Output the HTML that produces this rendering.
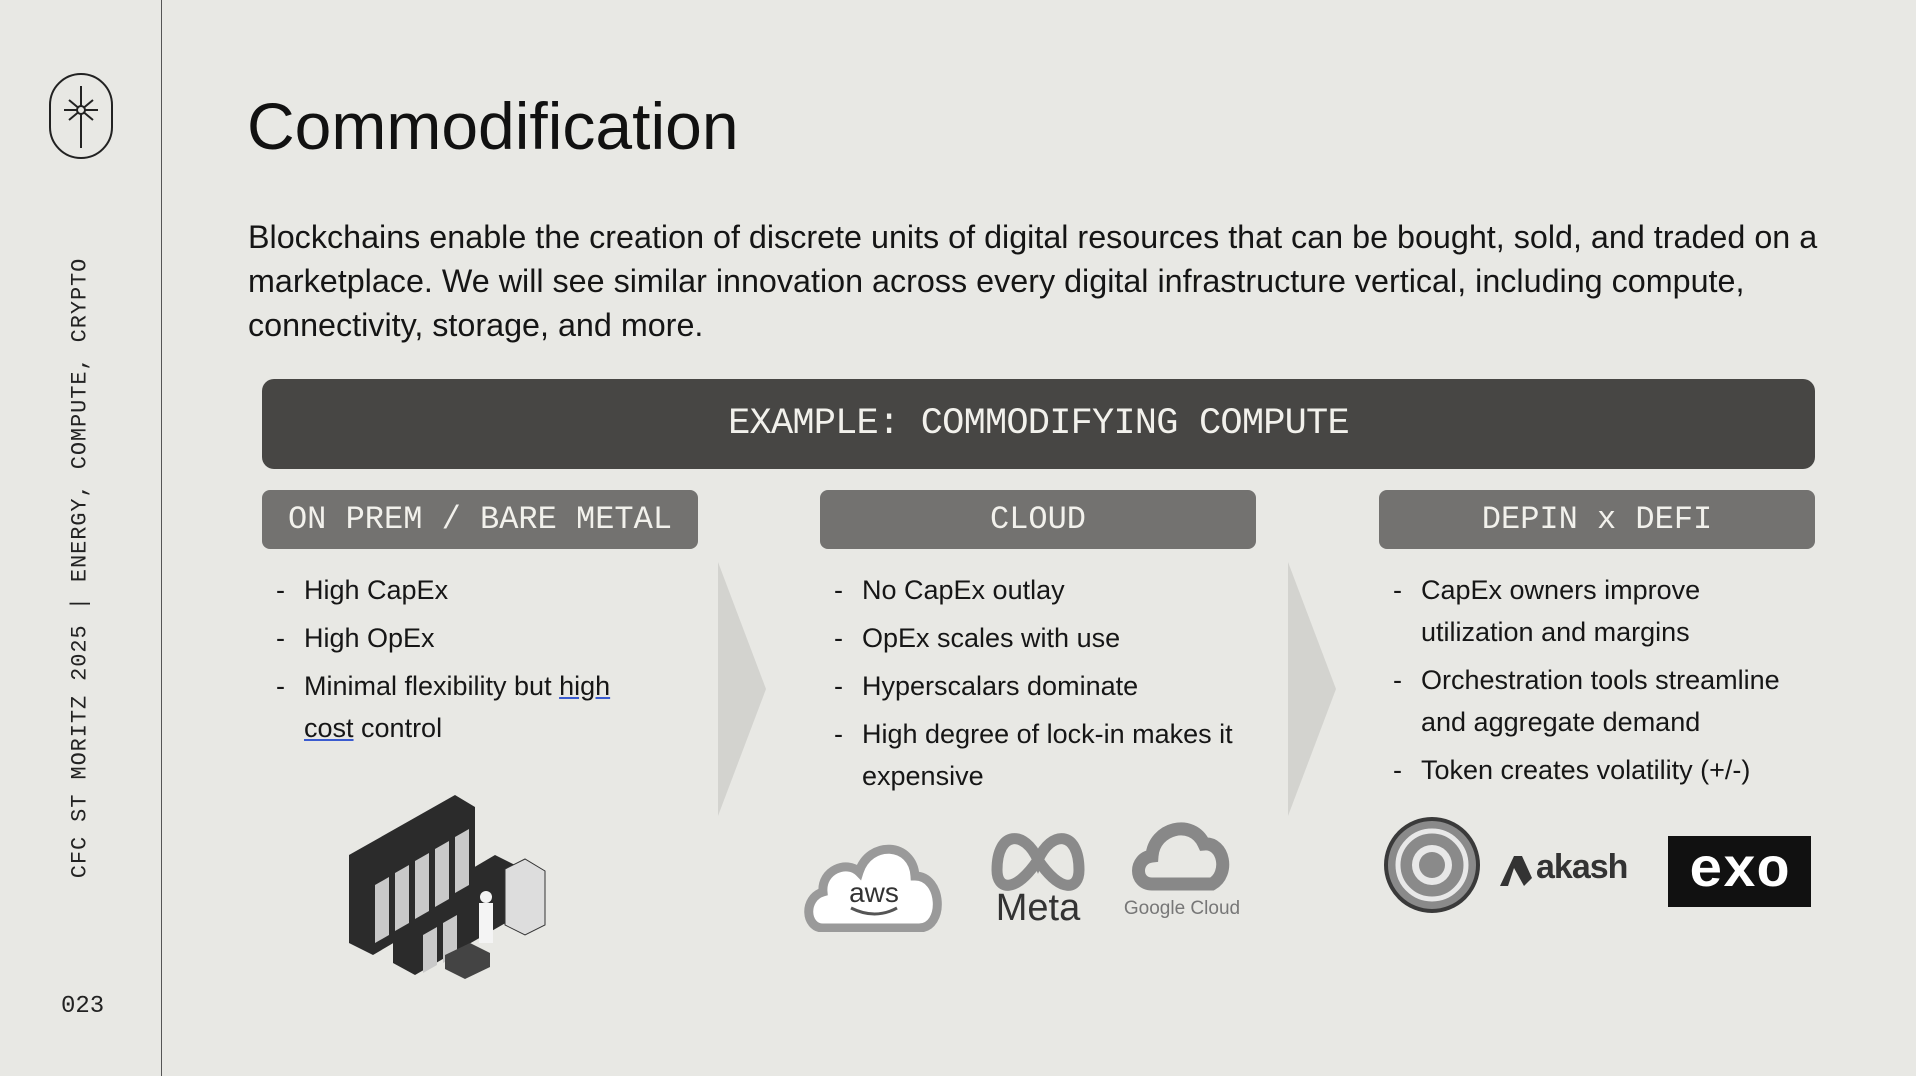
<!DOCTYPE html>
<html><head><meta charset="utf-8"><style>
*{margin:0;padding:0;box-sizing:border-box}
body{width:1916px;height:1076px;background:#e8e8e4;position:relative;overflow:hidden;font-family:"Liberation Sans",sans-serif;color:#111}
.abs{position:absolute}
.mono{font-family:"Liberation Mono",monospace}
.hdr{position:absolute;top:490px;height:59px;background:#737270;border-radius:8px;color:#f2f1ec;font-family:"Liberation Mono",monospace;font-size:32px;line-height:59px;text-align:center;letter-spacing:0}
ul{position:absolute;list-style:none;font-size:27px;line-height:42px;color:#161616}
li{position:relative;padding-left:28px;margin-bottom:6px}
li:before{content:"-";position:absolute;left:0;top:0}
</style></head><body>
<div class="abs" style="left:161px;top:0;width:1px;height:1076px;background:#555"></div>
<svg class="abs" style="left:48px;top:72px" width="68" height="90" viewBox="0 0 68 90">
<rect x="2" y="2" width="62" height="84" rx="31" fill="none" stroke="#222" stroke-width="2"/>
<line x1="33" y1="14" x2="33" y2="76" stroke="#222" stroke-width="2"/>
<line x1="16" y1="38" x2="50" y2="38" stroke="#222" stroke-width="2"/>
<line x1="21" y1="28" x2="45" y2="48" stroke="#222" stroke-width="2"/>
<line x1="45" y1="28" x2="21" y2="48" stroke="#222" stroke-width="2"/>
<circle cx="33" cy="38" r="4" fill="#e8e8e4" stroke="#222" stroke-width="2"/>
</svg>
<div class="abs mono" style="left:80px;top:568px;transform:translate(-50%,-50%) rotate(-90deg);white-space:nowrap;font-size:22px;letter-spacing:0.9px;color:#222">CFC ST MORITZ 2025 | ENERGY, COMPUTE, CRYPTO</div>
<div class="abs mono" style="left:61px;top:993px;font-size:24px;color:#222">023</div>
<div class="abs" style="left:247px;top:86px;font-size:66px;line-height:80px;color:#111">Commodification</div>
<div class="abs" style="left:248px;top:215px;font-size:32.3px;line-height:44px;white-space:nowrap;color:#151515">Blockchains enable the creation of discrete units of digital resources that can be bought, sold, and traded on a<br>marketplace. We will see similar innovation across every digital infrastructure vertical, including compute,<br>connectivity, storage, and more.</div>
<div class="abs mono" style="left:262px;top:379px;width:1553px;height:90px;background:#474644;border-radius:12px;color:#f2f1ec;font-size:37px;line-height:90px;text-align:center;letter-spacing:-0.8px">EXAMPLE: COMMODIFYING COMPUTE</div>
<div class="hdr" style="left:262px;width:436px">ON PREM / BARE METAL</div>
<div class="hdr" style="left:820px;width:436px">CLOUD</div>
<div class="hdr" style="left:1379px;width:436px">DEPIN x DEFI</div>
<svg class="abs" style="left:716px;top:560px" width="52" height="258"><polygon points="2,2 50,129 2,256" fill="#d3d3cf"/></svg>
<svg class="abs" style="left:1286px;top:560px" width="52" height="258"><polygon points="2,2 50,129 2,256" fill="#d3d3cf"/></svg>
<ul style="left:276px;top:569px;width:370px">
<li>High CapEx</li><li>High OpEx</li>
<li>Minimal flexibility but <span style="text-decoration:underline;text-decoration-color:#3a5bd0">high cost</span> control</li></ul>
<ul style="left:834px;top:569px;width:420px">
<li>No CapEx outlay</li><li>OpEx scales with use</li><li>Hyperscalars dominate</li><li>High degree of lock-in makes it expensive</li></ul>
<ul style="left:1393px;top:569px;width:420px">
<li>CapEx owners improve utilization and margins</li><li>Orchestration tools streamline and aggregate demand</li><li>Token creates volatility (+/-)</li></ul>
<svg class="abs" style="left:345px;top:785px" width="205" height="195" viewBox="0 0 205 195">
<g fill="#2b2b2b">
<polygon points="4,70 110,10 130,22 130,110 28,170 4,158"/>
<polygon points="48,130 150,70 178,84 178,128 70,190 48,178"/>
</g>
<g fill="#c9c9c9">
<polygon points="30,100 44,92 44,150 30,158"/><polygon points="50,88 64,80 64,138 50,146"/>
<polygon points="70,76 84,68 84,126 70,134"/><polygon points="90,64 104,56 104,114 90,122"/>
<polygon points="110,52 124,44 124,100 110,108"/>
<polygon points="78,150 92,142 92,180 78,188"/><polygon points="98,138 112,130 112,170 98,178"/>
</g>
<polygon points="160,84 180,74 200,86 200,140 180,150 160,140" fill="#ddd" stroke="#333"/>
<rect x="134" y="118" width="14" height="40" fill="#f4f4f4"/><circle cx="141" cy="112" r="6" fill="#f4f4f4"/>
<polygon points="100,170 125,158 145,168 145,182 120,194 100,184" fill="#444"/>
</svg>
<svg class="abs" style="left:803px;top:836px" width="142" height="96" viewBox="0 0 142 96">
<path d="M20,92 C2,92 0,62 20,56 C18,34 44,24 56,36 C66,4 110,6 112,40 C140,40 142,92 116,92 Z" fill="#fff" stroke="#9a9a9a" stroke-width="9"/>
<text x="71" y="66" text-anchor="middle" font-family="Liberation Sans,sans-serif" font-size="28" fill="#333">aws</text>
<path d="M48,72 Q72,84 94,72" fill="none" stroke="#555" stroke-width="3"/>
</svg>
<svg class="abs" style="left:985px;top:820px" width="106" height="104" viewBox="0 0 106 104">
<path d="M12,50 C12,10 40,10 53,40 C66,10 94,10 94,50 C94,70 76,74 53,40 C30,74 12,70 12,50 Z" fill="none" stroke="#8a8a8a" stroke-width="11"/>
<text x="53" y="100" text-anchor="middle" font-family="Liberation Sans,sans-serif" font-size="38" fill="#333">Meta</text>
</svg>
<svg class="abs" style="left:1122px;top:814px" width="120" height="106" viewBox="0 0 120 106">
<path d="M30,70 C12,70 12,44 30,42 C32,14 70,4 82,30 C102,28 108,60 90,70 Z" fill="none" stroke="#888" stroke-width="13"/>
<text x="60" y="100" text-anchor="middle" font-family="Liberation Sans,sans-serif" font-size="19" fill="#777">Google Cloud</text>
</svg>
<svg class="abs" style="left:1382px;top:815px" width="100" height="100" viewBox="0 0 100 100">
<circle cx="50" cy="50" r="46" fill="#8a8a8a" stroke="#3a3a3a" stroke-width="4"/>
<circle cx="50" cy="50" r="34" fill="none" stroke="#e8e8e8" stroke-width="5"/>
<circle cx="50" cy="50" r="20" fill="#e8e8e8"/><circle cx="50" cy="50" r="13" fill="#8a8a8a"/>
</svg>
<svg class="abs" style="left:1496px;top:850px" width="40" height="40"><polygon points="4,36 18,6 26,6 36,28 28,36 18,18 12,36" fill="#333"/></svg>
<div class="abs" style="left:1536px;top:848px;font-size:34px;font-weight:bold;color:#333;letter-spacing:-1px">akash</div>
<div class="abs mono" style="left:1668px;top:836px;width:143px;height:71px;background:#111;color:#fff;font-size:56px;font-weight:bold;line-height:71px;text-align:center">exo</div>
</body></html>
